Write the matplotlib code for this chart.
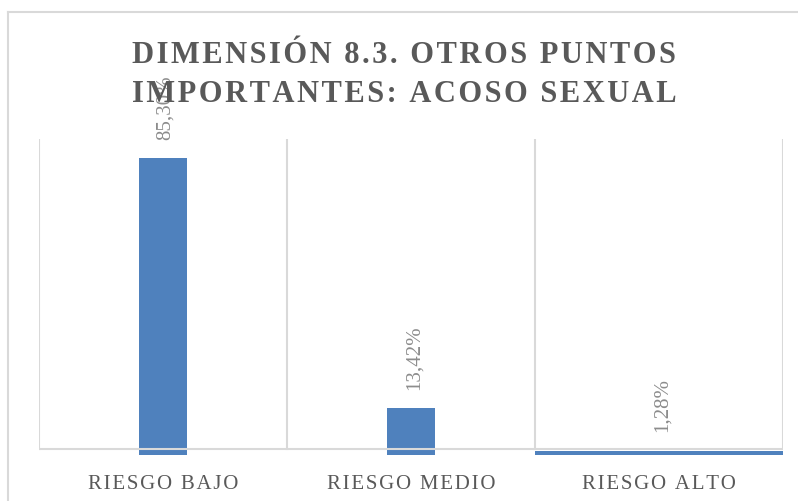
import numpy as np
import matplotlib.pyplot as plt
from matplotlib.lines import Line2D

# datos del gráfico
categorias = ["RIESGO BAJO", "RIESGO MEDIO", "RIESGO ALTO"]
valores = [85.30, 13.42, 1.28]
etiquetas = ["85,30%", "13,42%", "1,28%"]
anchos = [0.19, 0.19, 1.0]
titulo = ["DIMENSIÓN 8.3. OTROS PUNTOS", "IMPORTANTES: ACOSO SEXUAL"]

azul = "#4f81bd"
gris_linea = "#d9d9d9"
gris_texto = "#595959"
fuente = ["Liberation Serif", "DejaVu Serif"]


def espaciado(texto):
    # separa las letras con un espacio fino (imita el espaciado de Excel)
    return "\u200a".join(texto)


fig = plt.figure(figsize=(7.98, 5.02), dpi=100)
W, H = 798, 502

# ejes en pixeles: izquierda 39, derecha 783, base 456, arriba 140
ax = fig.add_axes([39 / W, 1 - 456 / H, (783 - 39) / W, (456 - 140) / H])
ax.set_xlim(-0.5, 2.5)
ax.set_ylim(0, 90.75)

x = np.arange(len(categorias))
ax.bar(x, valores, width=anchos, color=azul, zorder=2)

# linea del eje horizontal (un poco por encima de la base de las barras)
base = 1.72
ax.axhline(base, color=gris_linea, linewidth=1.5, zorder=3)
for xv in [-0.5, 0.5, 1.5, 2.5]:
    ax.plot([xv, xv], [base, 90.75], color=gris_linea, linewidth=1.5, zorder=1)

for xi, v, t in zip(x, valores, etiquetas):
    ax.annotate(t, (xi, v), xytext=(2, 14), textcoords="offset points",
                rotation=90, ha="center", va="bottom", fontsize=15,
                color="#8c8c8c", family=fuente)

ax.set_xticks(x)
ax.set_xticklabels([espaciado(c) for c in categorias], family=fuente,
                   fontsize=15, color=gris_texto)
ax.tick_params(axis="x", length=0, pad=14)
ax.set_yticks([])
for s in ax.spines.values():
    s.set_visible(False)

# titulo en dos lineas
for linea, yb in zip(titulo, [63, 102]):
    fig.text(404 / W, 1 - yb / H, espaciado(linea), ha="center", va="baseline",
             fontsize=22, fontweight="bold", color=gris_texto, family=fuente)

# borde exterior del grafico
fig.add_artist(Line2D([8 / W, 1], [1 - 13 / H, 1 - 13 / H], color=gris_linea, linewidth=1.5))
fig.add_artist(Line2D([8 / W, 8 / W], [0, 1 - 13 / H], color=gris_linea, linewidth=1.5))

fig.savefig("out.png", dpi=100)
